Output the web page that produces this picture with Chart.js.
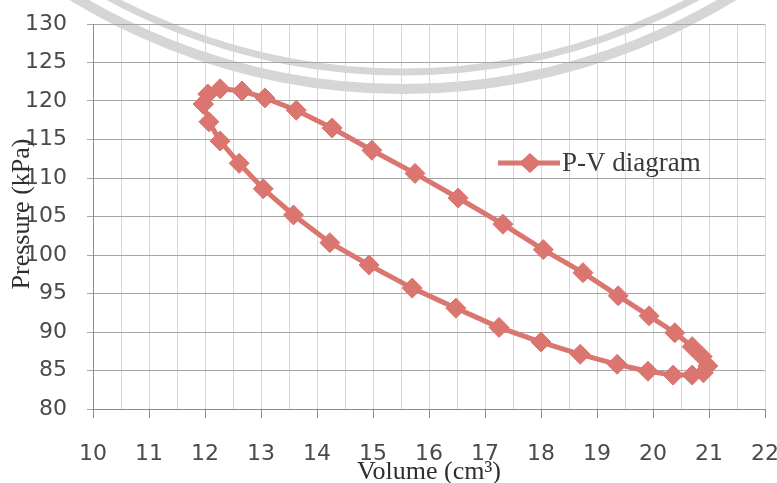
<!DOCTYPE html>
<html>
<head>
<meta charset="utf-8">
<script src="https://cdn.jsdelivr.net/npm/chart.js@4.4.1/dist/chart.umd.min.js"></script>
<style>
html,body{margin:0;padding:0;background:#fff;overflow:hidden}
#wrap{width:777px;height:483px;position:relative}
</style>
</head>
<body>
<div id="wrap"><canvas id="c" width="777" height="483"></canvas></div>
<script>
// ---- data ----
const volume = [11.97, 12.05, 12.27, 12.66, 13.07, 13.63, 14.27, 14.98, 15.75, 16.52, 17.32, 18.04, 18.75, 19.38, 19.93, 20.39, 20.70, 20.88, 20.98,
                20.90, 20.70, 20.36, 19.91, 19.36, 18.70, 18.00, 17.25, 16.48, 15.70, 14.93, 14.23, 13.58, 13.04, 12.61, 12.27, 12.07, 11.97];
const pressure = [119.6, 120.9, 121.6, 121.3, 120.4, 118.8, 116.5, 113.6, 110.6, 107.4, 104.0, 100.7, 97.7, 94.7, 92.1, 89.9, 88.1, 86.8, 85.6,
                  84.7, 84.4, 84.4, 84.9, 85.8, 87.1, 88.7, 90.6, 93.1, 95.7, 98.7, 101.6, 105.2, 108.6, 111.9, 114.8, 117.3, 119.6];
const xTickLabels = [10, 11, 12, 13, 14, 15, 16, 17, 18, 19, 20, 21, 22];
const yTickLabels = [80, 85, 90, 95, 100, 105, 110, 115, 120, 125, 130];
const seriesLabel = 'P-V diagram';
const xTitle = 'Volume (cm³)';
const yTitle = 'Pressure (kPa)';

const lineColor = '#da766f';
const points = volume.map((v, i) => ({x: v, y: pressure[i]}));

const decor = {
  id: 'decor',
  beforeDraw(chart) {
    const ctx = chart.ctx;
    ctx.save();
    ctx.fillStyle = '#ffffff';
    ctx.fillRect(0, 0, chart.width, chart.height);
    // faint watermark rings (background)
    ctx.strokeStyle = '#d6d6d6';
    ctx.lineWidth = 7;
    ctx.beginPath(); ctx.arc(403, -544, 616, 0, Math.PI); ctx.stroke();
    ctx.lineWidth = 10;
    ctx.beginPath(); ctx.arc(403, -544, 633, 0, Math.PI); ctx.stroke();
    ctx.restore();
  },
  afterDraw(chart) {
    const ctx = chart.ctx;
    const area = chart.chartArea;
    ctx.save();
    // axis titles
    ctx.fillStyle = '#2e2e2e';
    ctx.font = '26px "Liberation Serif", "Times New Roman", serif';
    ctx.textAlign = 'center';
    ctx.textBaseline = 'middle';
    ctx.fillText(xTitle, (area.left + area.right) / 2, 472);
    ctx.save();
    ctx.translate(22, 214);
    ctx.rotate(-Math.PI / 2);
    ctx.fillText(yTitle, 0, 0);
    ctx.restore();

    // legend
    const ly = 163;
    ctx.strokeStyle = lineColor;
    ctx.lineWidth = 5;
    ctx.beginPath(); ctx.moveTo(498, ly); ctx.lineTo(560, ly); ctx.stroke();
    ctx.fillStyle = lineColor;
    ctx.beginPath();
    ctx.moveTo(530 - 11, ly); ctx.lineTo(530, ly - 10); ctx.lineTo(530 + 11, ly); ctx.lineTo(530, ly + 10);
    ctx.closePath(); ctx.fill();
    ctx.fillStyle = '#3a3a3a';
    ctx.textAlign = 'left';
    ctx.font = '27px "Liberation Serif", "Times New Roman", serif';
    ctx.fillText(seriesLabel, 562, ly + 1);
    ctx.restore();
  }
};

new Chart(document.getElementById('c'), {
  type: 'scatter',
  data: {
    datasets: [{
      label: seriesLabel,
      data: points,
      showLine: true,
      borderColor: lineColor,
      backgroundColor: lineColor,
      borderWidth: 5,
      pointStyle: 'rectRot',
      pointRadius: 10,
      pointBorderWidth: 1,
      pointBorderColor: lineColor,
      pointBackgroundColor: lineColor,
      tension: 0
    }]
  },
  options: {
    responsive: false,
    animation: false,
    devicePixelRatio: 1,
    layout: {padding: {top: 24, right: 12, left: 0, bottom: 0}},
    plugins: {legend: {display: false}, tooltip: {enabled: false}},
    scales: {
      x: {
        type: 'linear',
        min: xTickLabels[0],
        max: xTickLabels[xTickLabels.length - 1],
        afterBuildTicks(scale) {
          const t = [];
          for (let i = 0; i < xTickLabels.length; i++) {
            t.push({value: xTickLabels[i]});
            if (i < xTickLabels.length - 1) t.push({value: xTickLabels[i] + 0.5});
          }
          scale.ticks = t;
        },
        ticks: {
          autoSkip: false,
          maxRotation: 0,
          padding: 23,
          color: '#4a4a4a',
          font: {family: '"DejaVu Sans", sans-serif', size: 22},
          callback: (v) => (xTickLabels.includes(v) ? String(v) : '')
        },
        grid: {
          color: '#d6d6d6',
          lineWidth: 1,
          tickLength: 9,
          tickColor: (c) => (c.tick && xTickLabels.includes(c.tick.value) ? '#8a8a8a' : 'rgba(0,0,0,0)')
        },
        border: {color: '#8a8a8a', width: 1},
        afterFit(scale) { scale.height = 74; scale.paddingLeft = 0; scale.paddingRight = 0; }
      },
      y: {
        type: 'linear',
        min: yTickLabels[0],
        max: yTickLabels[yTickLabels.length - 1],
        afterBuildTicks(scale) { scale.ticks = yTickLabels.map(v => ({value: v})); },
        ticks: {
          padding: 20,
          color: '#4a4a4a',
          font: {family: '"DejaVu Sans", sans-serif', size: 22}
        },
        grid: {color: '#a6a6a6', lineWidth: 1, tickLength: 6, tickColor: '#a6a6a6'},
        border: {color: '#8a8a8a', width: 1},
        afterFit(scale) { scale.width = 93; scale.paddingTop = 0; scale.paddingBottom = 0; }
      }
    }
  },
  plugins: [decor]
});
</script>
</body>
</html>
